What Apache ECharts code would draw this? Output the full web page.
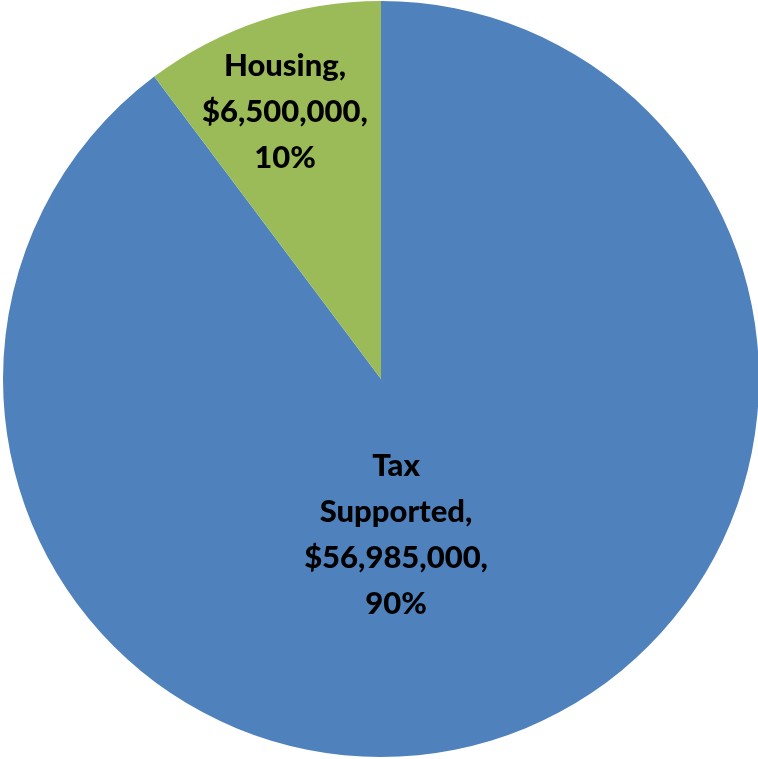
<!DOCTYPE html>
<html>
<head>
<meta charset="utf-8">
<style>
  html, body { margin: 0; padding: 0; background: #ffffff; }
  #chart { width: 758px; height: 759px; }
</style>
<script src="https://cdn.jsdelivr.net/npm/echarts@6/dist/echarts.min.js"></script>
</head>
<body>
<div id="chart"></div>
<script>
// Funding sources
const categories = ['Tax Supported', 'Housing'];
const amounts = [56985000, 6500000];
const sliceColors = ['#4F81BD', '#9BBB59'];

// Label placement in polar terms: degrees clockwise from 12 o'clock, fraction of radius
const labelPolar = [
  { angle: 174.5, dist: 0.415 },
  { angle: -19.8, dist: 0.75 }
];

const cx = 381, cy = 379, R = 378;

const chart = echarts.init(document.getElementById('chart'), null, { renderer: 'canvas' });

chart.setOption({
  animation: false,
  backgroundColor: '#ffffff',
  series: [{
    type: 'pie',
    center: [cx, cy],
    radius: [0, R],
    startAngle: 90,
    clockwise: true,
    percentPrecision: 0,
    avoidLabelOverlap: false,
    itemStyle: { borderWidth: 0 },
    label: {
      show: true,
      position: 'inside',
      fontFamily: 'Lato',
      fontWeight: 900,
      fontSize: 31,
      lineHeight: 46,
      color: '#000000',
      align: 'center',
      formatter: function (p) {
        const name = p.name.replace(' ', '\n');
        return name + ',\n$' + p.value.toLocaleString('en-US') + ',\n' + p.percent + '%';
      }
    },
    labelLine: { show: false },
    labelLayout: function (params) {
      const lp = labelPolar[params.dataIndex];
      const a = lp.angle * Math.PI / 180;
      return {
        x: cx + Math.sin(a) * R * lp.dist,
        y: cy - Math.cos(a) * R * lp.dist,
        align: 'center',
        verticalAlign: 'middle'
      };
    },
    data: categories.map(function (name, i) {
      return { name: name, value: amounts[i], itemStyle: { color: sliceColors[i] } };
    })
  }]
});
</script>
</body>
</html>
